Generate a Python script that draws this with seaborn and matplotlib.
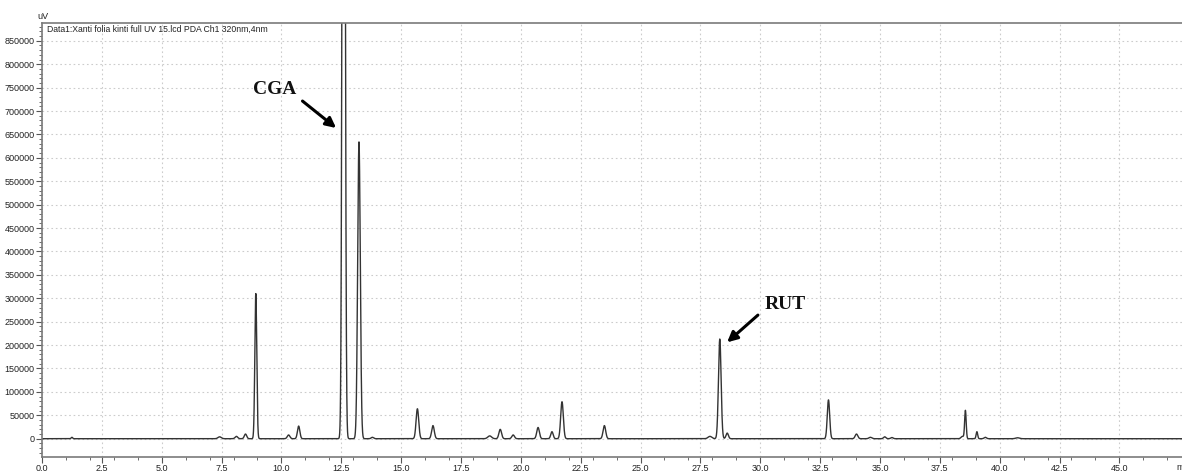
import numpy as np
import pandas as pd
import matplotlib
matplotlib.use("Agg")
import matplotlib.pyplot as plt
from matplotlib.ticker import MultipleLocator, FixedLocator
import seaborn as sns

# Peak table: retention time (min), height (uV), width (sigma, min)
peak_times = [1.25, 7.42, 8.12, 8.5, 8.93, 10.3, 10.72, 12.6, 13.24, 13.8,
              15.68, 16.33, 18.7, 19.14, 19.68, 20.72, 21.3, 21.72, 23.49,
              27.9, 28.31, 28.62, 32.85, 34.02, 34.6, 35.2, 35.5, 38.45, 38.57,
              39.05, 39.4, 40.75]
peak_heights = [3000, 4000, 5000, 10000, 310000, 8000, 27000, 3000000, 634000, 3000,
                64000, 28000, 6000, 20000, 8000, 24000, 15000, 79000, 28000,
                5000, 213000, 12000, 83000, 10000, 3000, 4000, 2500, 5000, 60000,
                15000, 3000, 2000]
peak_widths = [0.03, 0.07, 0.055, 0.05, 0.04, 0.055, 0.05, 0.05, 0.055, 0.05,
               0.055, 0.055, 0.08, 0.055, 0.055, 0.055, 0.05, 0.055, 0.055,
               0.08, 0.055, 0.05, 0.05, 0.055, 0.06, 0.05, 0.05, 0.06, 0.032,
               0.032, 0.05, 0.08]

x_ticks = [0.0, 2.5, 5.0, 7.5, 10.0, 12.5, 15.0, 17.5, 20.0, 22.5, 25.0, 27.5,
           30.0, 32.5, 35.0, 37.5, 40.0, 42.5, 45.0]
y_ticks = list(range(0, 850001, 50000))

title_text = "Data1:Xanti folia kinti full UV 15.lcd PDA Ch1 320nm,4nm"

# Build the detector trace from the peak table
t = np.linspace(0, 47.7, 24000)
signal = np.zeros_like(t)
for rt, h, w in zip(peak_times, peak_heights, peak_widths):
    signal += h * np.exp(-0.5 * ((t - rt) / w) ** 2)
df = pd.DataFrame({"time": t, "uV": signal})

sns.set_style("white")
plt.rcParams["font.family"] = ["Liberation Sans", "DejaVu Sans"]

W, H = 1182, 473
fig = plt.figure(figsize=(W / 100, H / 100), dpi=100)
left, right, top, bottom = 42, 1184, 23, 456.5
ax = fig.add_axes([left / W, (H - bottom) / H, (right - left) / W, (bottom - top) / H])

sns.lineplot(data=df, x="time", y="uV", ax=ax, color="#333333", linewidth=1.0)

ax.set_xlim(0, 47.7)
ax.set_ylim(-38000, 888000)
ax.set_xlabel("")
ax.set_ylabel("")

ax.xaxis.set_major_locator(FixedLocator(x_ticks))
ax.set_xticklabels([f"{v:.1f}" for v in x_ticks])
ax.xaxis.set_minor_locator(MultipleLocator(1.0))
ax.yaxis.set_major_locator(FixedLocator(y_ticks))
ax.set_yticklabels([str(v) for v in y_ticks])
ax.yaxis.set_minor_locator(MultipleLocator(10000))

ax.tick_params(axis="both", which="major", direction="out", length=4, width=0.8,
               color="#555555", labelsize=6.5, labelcolor="#222222", pad=1.5)
ax.tick_params(axis="both", which="minor", direction="out", length=2, width=0.6,
               color="#555555")
ax.tick_params(axis="x", which="both", bottom=True)
ax.tick_params(axis="y", which="both", left=True)

ax.grid(True, which="major", linestyle=(0, (1.5, 2.5)), color="#cccccc", linewidth=0.8)
ax.set_axisbelow(True)

for side in ["top", "left", "bottom", "right"]:
    ax.spines[side].set_color("#7a7a7a")
    ax.spines[side].set_linewidth(1.2)

ax.text(0.2, 885000, title_text, fontsize=6.2, va="top", ha="left", color="#222222")
fig.text(37 / W, (H - 19) / H, "uV", fontsize=6.5, ha="left", va="baseline", color="#222222")
fig.text(1176 / W, (H - 470) / H, "min", fontsize=6.5, ha="left", va="baseline", color="#222222")

serif = ["Liberation Serif", "DejaVu Serif"]
ax.annotate("", xy=(12.375, 660000), xytext=(10.79, 725000),
            arrowprops=dict(arrowstyle="-|>,head_length=0.6,head_width=0.3", color="black", lw=2.2))
ax.text(9.71, 745000, "CGA", fontsize=14, fontweight="bold", family=serif,
        ha="center", va="center", color="#111111")
ax.annotate("", xy=(28.53, 202000), xytext=(29.99, 268000),
            arrowprops=dict(arrowstyle="-|>,head_length=0.6,head_width=0.3", color="black", lw=2.2))
ax.text(31.06, 286000, "RUT", fontsize=14, fontweight="bold", family=serif,
        ha="center", va="center", color="#111111")

fig.savefig("out.png", dpi=100)
